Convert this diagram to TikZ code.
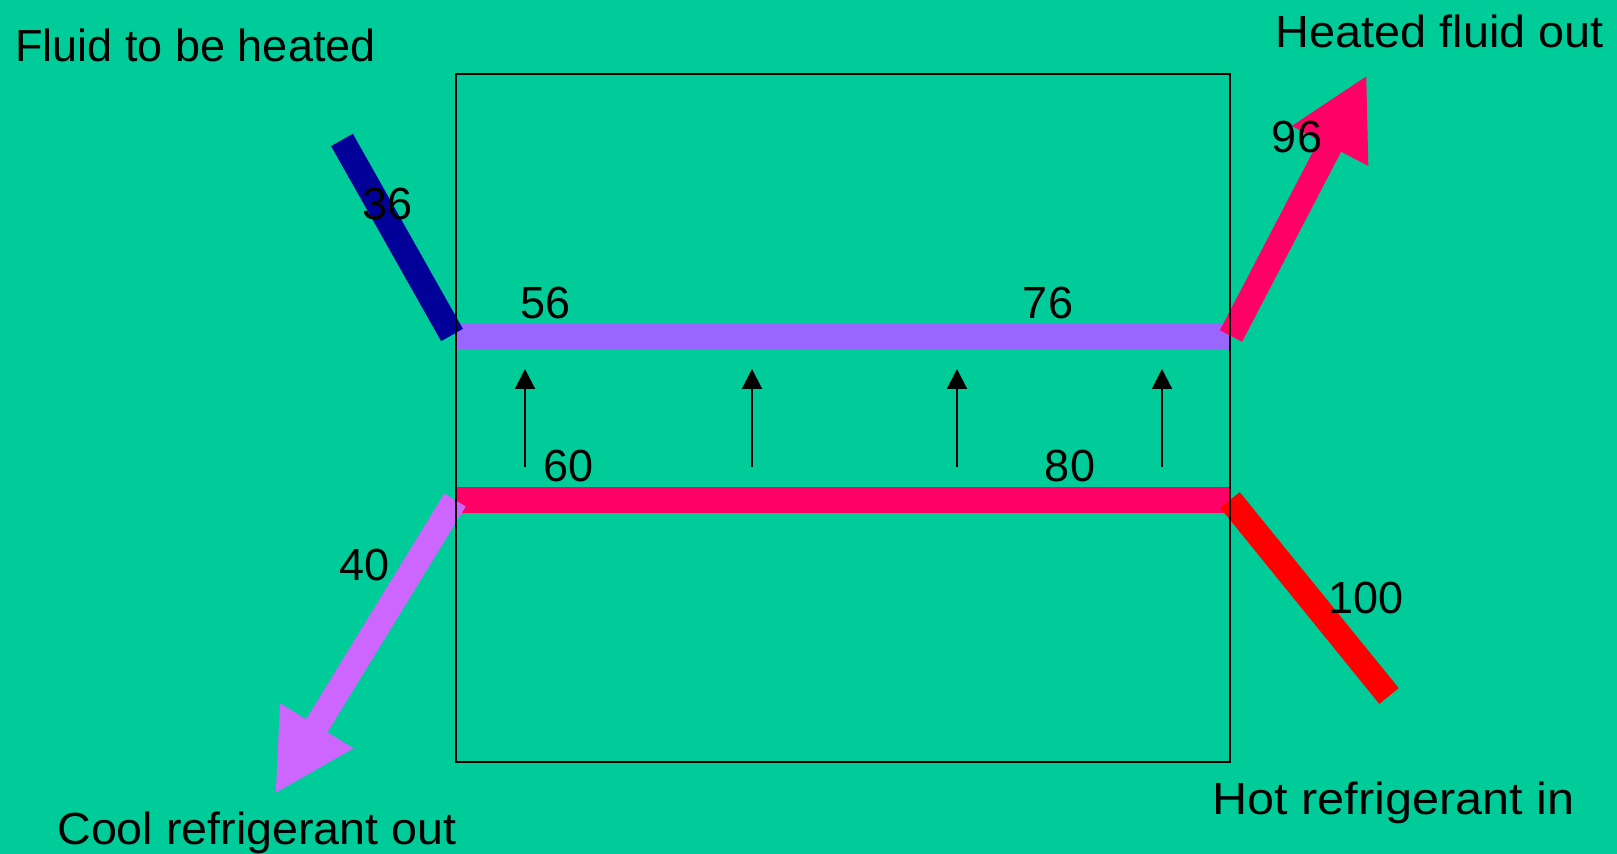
\documentclass[tikz,border=0pt]{standalone}
\usepackage{fontspec}
\setmainfont{Liberation Sans}
\usetikzlibrary{arrows.meta}
\definecolor{bgc}{HTML}{00CC99}
\definecolor{inblue}{HTML}{000099}
\definecolor{midpurple}{HTML}{9966FF}
\definecolor{hotpink}{HTML}{FF0066}
\definecolor{coolviolet}{HTML}{CC66FF}
\definecolor{hotred}{HTML}{FF0000}
\begin{document}
\begin{tikzpicture}[x=0.5pt,y=-0.5pt,
  lbl/.style={inner sep=0pt,font=\fontsize{22.5pt}{27pt}\selectfont},
  bar/.style={line width=13pt},
  bigarrow/.style={line width=12.5pt,-{Triangle[length=40pt,width=40pt]}},
  heatarrow/.style={line width=1pt,-{Triangle[length=10pt,width=10pt]}},
  frame/.style={draw=black,line width=1pt}]
\fill[bgc] (0,0) rectangle (1617,854);
\useasboundingbox (0,0) rectangle (1617,854);
% coordinates
\coordinate (boxNW) at (456,74);
\coordinate (boxSE) at (1230,762);
\coordinate (topL) at (456,336);
\coordinate (topR) at (1230,336);
\coordinate (botL) at (456,500);
\coordinate (botR) at (1230,500);
\coordinate (inS) at (342,140);
\coordinate (inE) at (452,335);
\coordinate (outS) at (1231,336);
\coordinate (outE) at (1367,75);
\coordinate (coolS) at (455,500);
\coordinate (coolE) at (275,794);
\coordinate (hotS) at (1389,696);
\coordinate (hotE) at (1230,500);
% bars
\draw[bar,midpurple] (topL) -- (topR);
\draw[bar,hotpink] (botL) -- (botR);
\draw[line width=12.5pt,inblue] (inS) -- (inE);
\draw[bigarrow,hotpink] (outS) -- (outE);
\draw[bigarrow,coolviolet] (coolS) -- (coolE);
\draw[line width=12.5pt,hotred] (hotS) -- (hotE);
% heat flow arrows
\foreach \i/\x in {1/525,2/752,3/957,4/1162}{
  \coordinate (h\i a) at (\x,467);
  \coordinate (h\i b) at (\x,369);
  \draw[heatarrow] (h\i a) -- (h\i b);
}
% frame
\draw[frame] (boxNW) rectangle (boxSE);
% labels
\node[lbl,anchor=west] (tFluid) at (15,45) {Fluid to be heated};
\node[lbl,anchor=east] (tHeated) at (1604,31) {\scalebox{1.04}[1]{Heated fluid out}};
\node[lbl,anchor=west] (tCool) at (57,833) {\scalebox{1.036}[1]{Cool refrigerant out}};
\node[lbl,anchor=east] (tHot) at (1575,803) {\scalebox{1.08}[1]{Hot refrigerant in}};
\node[lbl] (n36) at (388,204) {36};
\node[lbl] (n56) at (546,303) {56};
\node[lbl] (n76) at (1048,303) {76};
\node[lbl] (n96) at (1297,137) {96};
\node[lbl] (n60) at (569,466) {60};
\node[lbl] (n80) at (1070,466) {80};
\node[lbl] (n40) at (365,565) {40};
\node[lbl] (n100) at (1366,598) {100};
\end{tikzpicture}
\end{document}
